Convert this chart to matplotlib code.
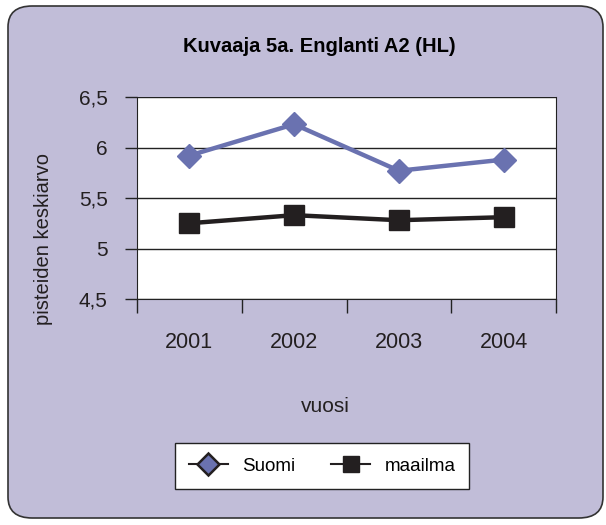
import matplotlib.pyplot as plt
from matplotlib.lines import Line2D
from matplotlib.patches import FancyBboxPatch

plt.rcParams["font.family"] = ["Liberation Sans", "DejaVu Sans"]

years = ["2001", "2002", "2003", "2004"]
suomi = [5.92, 6.23, 5.77, 5.88]
maailma = [5.25, 5.33, 5.28, 5.31]
y_ticks = [4.5, 5.0, 5.5, 6.0, 6.5]
y_labels = ["4,5", "5", "5,5", "6", "6,5"]

BG = "#c1bdd8"
SUOMI_COLOR = "#6a72b0"
MAAILMA_COLOR = "#231f20"
TEXT_COLOR = "#231f20"

fig = plt.figure(figsize=(6.06, 5.25), dpi=100)
fig.patch.set_facecolor("white")

# rounded chart frame, kept behind the axes
frame = FancyBboxPatch(
    (8 / 606, 7 / 525), 595 / 606, 512 / 525,
    boxstyle="round,pad=0,rounding_size=0.04",
    transform=fig.transFigure, facecolor=BG, edgecolor="#333333",
    linewidth=1.2, zorder=-10,
)
fig.patches.append(frame)

ax = fig.add_axes([137 / 606, 1 - 299 / 525, 419 / 606, 202 / 525])
ax.set_zorder(1)
ax.set_facecolor("white")

x = list(range(len(years)))
ax.plot(x, suomi, color=SUOMI_COLOR, linewidth=3.2, marker="D", markersize=12,
        markerfacecolor=SUOMI_COLOR, markeredgecolor=SUOMI_COLOR, zorder=3)
ax.plot(x, maailma, color=MAAILMA_COLOR, linewidth=3.2, marker="s", markersize=15,
        markerfacecolor=MAAILMA_COLOR, markeredgecolor=MAAILMA_COLOR, zorder=3)

ax.set_xlim(-0.5, len(years) - 0.5)
ax.set_ylim(4.5, 6.5)
ax.set_yticks(y_ticks)
ax.set_yticklabels(y_labels, fontsize=15, color=TEXT_COLOR)
ax.yaxis.grid(True, color="#222222", linewidth=1)
ax.set_axisbelow(True)

# category ticks sit between the years, labels in the middle
ax.set_xticks([i - 0.5 for i in range(len(years) + 1)])
ax.set_xticklabels([])
ax.set_xticks(x, minor=True)
ax.set_xticklabels(years, minor=True, fontsize=15.5, color=TEXT_COLOR)
ax.tick_params(axis="x", which="major", length=10, width=1, color="#222222")
ax.tick_params(axis="x", which="minor", length=0, pad=24)
ax.tick_params(axis="y", length=9, width=1, color="#222222", pad=12)

ax.spines["top"].set_visible(False)
for side in ["left", "bottom", "right"]:
    ax.spines[side].set_color("#222222")

fig.text(319 / 606, 1 - 46 / 525, "Kuvaaja 5a. Englanti A2 (HL)",
         ha="center", va="center", fontsize=14.5, fontweight="bold",
         color="black")
fig.text(44 / 606, 1 - 239 / 525, "pisteiden keskiarvo", rotation=90,
         ha="center", va="center", fontsize=14.5, color=TEXT_COLOR)
fig.text(325 / 606, 1 - 406 / 525, "vuosi", ha="center", va="center",
         fontsize=15, color=TEXT_COLOR)

handles = [
    Line2D([], [], color=MAAILMA_COLOR, linewidth=1.5, marker="D",
           markersize=11, markerfacecolor=SUOMI_COLOR,
           markeredgecolor=MAAILMA_COLOR, markeredgewidth=1.8),
    Line2D([], [], color=MAAILMA_COLOR, linewidth=1.5, marker="s",
           markersize=11, markerfacecolor=MAAILMA_COLOR,
           markeredgecolor=MAAILMA_COLOR),
]
leg = fig.legend(handles, ["Suomi", "maailma"], loc="center",
                 bbox_to_anchor=(322 / 606, 1 - 466 / 525), ncol=2,
                 fontsize=13.5, frameon=True, fancybox=False,
                 handlelength=2.1, columnspacing=1.9, borderpad=0.75,
                 handletextpad=0.75, framealpha=1)
leg.get_frame().set_facecolor("white")
leg.get_frame().set_edgecolor("#222222")
leg.get_frame().set_linewidth(1)

fig.savefig("out.png", dpi=100, facecolor=fig.get_facecolor())
